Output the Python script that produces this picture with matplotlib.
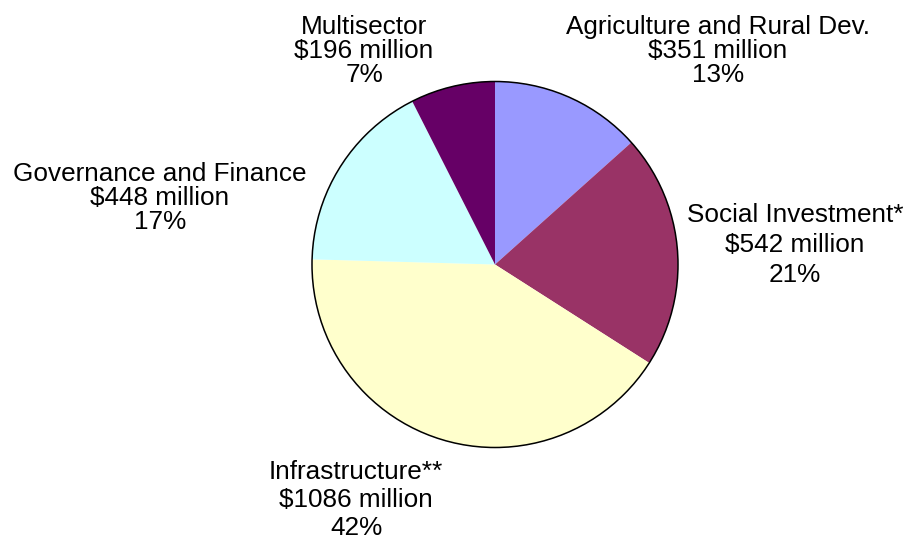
import matplotlib
matplotlib.use("Agg")
import matplotlib.pyplot as plt
from matplotlib.patches import Circle

# Sector allocations (clockwise from 12 o'clock)
sectors = ["Agriculture and Rural Dev.", "Social Investment*", "Infrastructure**",
           "Governance and Finance", "Multisector"]
amounts = [351, 542, 1086, 448, 196]          # $ million
shares = [13, 21, 42, 17, 7]                  # percent of total
colors = ["#9999FF", "#993366", "#FFFFCC", "#CCFFFF", "#660066"]

# Label layout: centre x, first-line baseline y, line step (pixels, top-down)
label_x = [718, 795, 356, 160, 364]
label_y = [34, 222, 479, 181, 34]
label_step = [24, 30, 28, 24, 24]

W, H = 905, 539
plt.rcParams["font.family"] = ["Liberation Sans", "DejaVu Sans"]

fig = plt.figure(figsize=(W / 100, H / 100), dpi=100)
ax = fig.add_axes([0, 0, 1, 1])

cx, cy, r = 495, H - 264.5, 183
ax.pie(amounts, colors=colors, startangle=90, counterclock=False,
       center=(cx, cy), radius=r, frame=True,
       wedgeprops=dict(linewidth=0, antialiased=True))
ax.add_patch(Circle((cx, cy), r, fill=False, edgecolor="black", linewidth=1.1, zorder=5))
ax.set_xlim(0, W)
ax.set_ylim(0, H)
ax.set_aspect("equal")
ax.axis("off")

for name, amt, pct, x, y, step in zip(sectors, amounts, shares, label_x, label_y, label_step):
    lines = [name, f"${amt} million", f"{pct}%"]
    for i, line in enumerate(lines):
        ax.text(x, H - (y + i * step), line, ha="center", va="baseline",
                fontsize=18.8, color="black")

fig.savefig("out.png", dpi=100, facecolor="white")
